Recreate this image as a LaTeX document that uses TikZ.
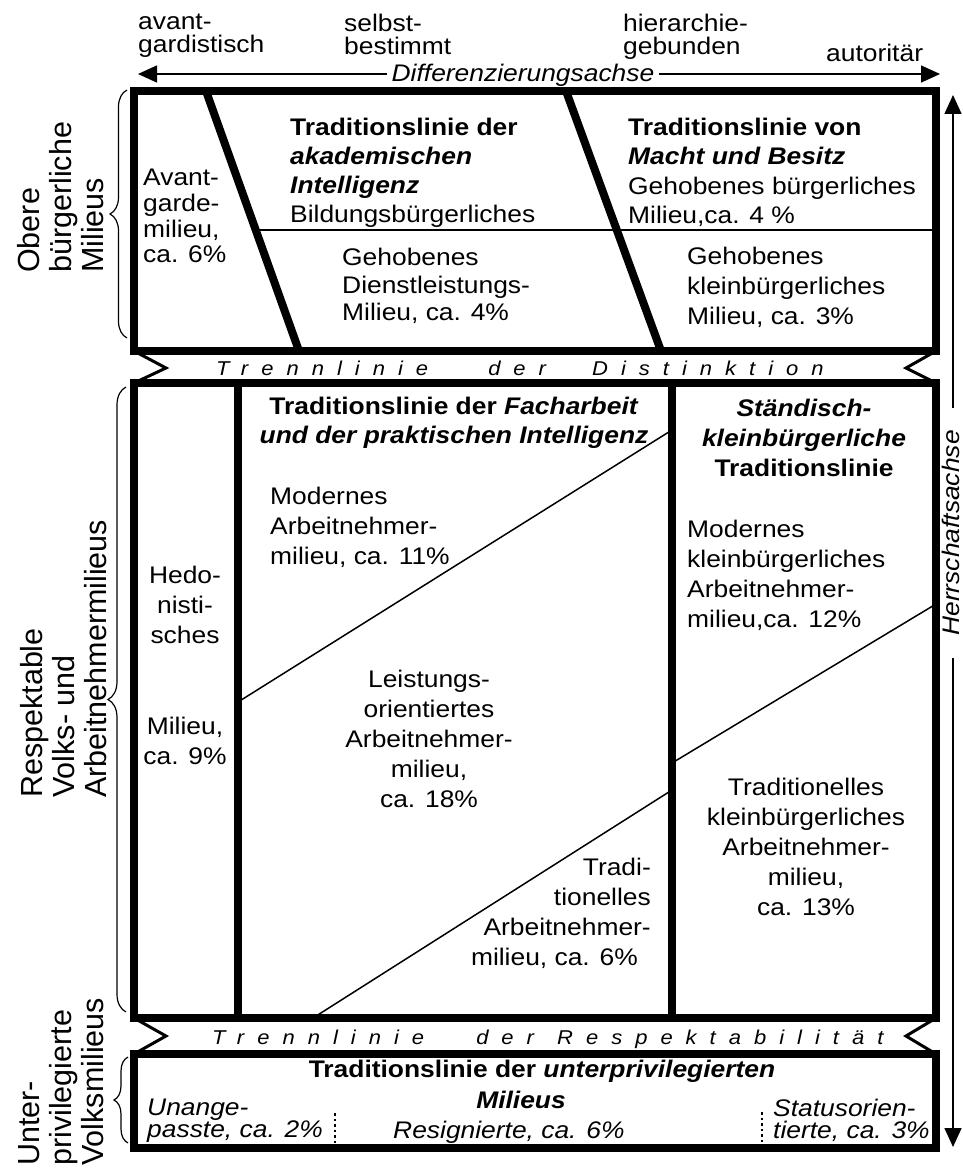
\documentclass[tikz,border=0pt]{standalone}
\usepackage{fontspec}
\setmainfont{Liberation Sans}[FakeStretch=1.1]
\newfontfamily\rotfont{Liberation Sans}
\newfontfamily\trennfont{Liberation Sans}[FakeStretch=1.1,LetterSpace=65,WordSpace=1]
\usetikzlibrary{arrows.meta,decorations.pathreplacing}
\begin{document}
\begin{tikzpicture}[x=1pt,y=-1pt,
  frame/.style={line width=8pt, line join=miter},
  heavy/.style={line width=8pt},
  thinline/.style={line width=1.5pt},
  zig/.style={line width=3pt, line join=miter},
  dotline/.style={line width=2.5pt, dash pattern=on 2.5pt off 3pt},
  bracestyle/.style={line width=1.2pt, decorate, decoration={brace, amplitude=#1}},
  axis/.style={line width=1.5pt, {Triangle[length=19pt,width=17pt]}-{Triangle[length=19pt,width=17pt]}},
  txt/.style={inner sep=0pt, font=\fontsize{24}{#1}\selectfont},
  txt/.default=30,
  toplab/.style={inner sep=0pt, font=\fontsize{24}{22.5}\selectfont, align=left},
  rotlab/.style={inner sep=0pt, rotate=90, anchor=north west, align=left, font=\rotfont\fontsize{30.5}{32}\selectfont},
  trenn/.style={inner sep=0pt, anchor=base west, font={\trennfont\itshape\fontsize{20}{24}\selectfont}},
  axislab/.style={font=\fontsize{24}{28}\selectfont\itshape, fill=white}
]
\useasboundingbox (0,0) rectangle (963,1169);

% ---- axes
\coordinate (hl) at (138,74);
\coordinate (hr) at (940,74);
\draw[axis] (hl) -- (hr);
\node[axislab, anchor=base, inner xsep=5pt, inner ysep=3pt] (dlab) at (523,82) {Differenzierungsachse};

\coordinate (vt) at (953,95);
\coordinate (vb) at (953,1147);
\draw[axis] (vt) -- (vb);
\node[axislab, rotate=90, inner xsep=22pt, inner ysep=2pt] (hlab) at (951,533) {Herrschaftsachse};

% ---- top labels
\node[toplab, anchor=north west] (avant) at (138,14) {avant-\\gardistisch};
\node[toplab, anchor=north west] (selbst) at (344,14) {selbst-\\bestimmt};
\node[toplab, anchor=north west] (hier) at (623,14) {hierarchie-\\gebunden};
\node[toplab, anchor=base west] (auto) at (826,62) {autoritär};

% ---- top box
\draw[heavy] (206,91) -- (299,351);
\draw[heavy] (566,91) -- (661,351);
\draw[thinline] (255.7,230) -- (936,230);
\draw[frame] (134,91) rectangle (936,351);

% ---- middle box
\draw[heavy] (238,383) -- (238,1018);
\draw[heavy] (672,383) -- (672,1018);
\draw[thinline] (238,702) -- (672,430);
\draw[thinline] (313,1018) -- (672,790);
\draw[thinline] (672,763) -- (936,604);
\draw[frame] (134,383) rectangle (936,1018);

% ---- lower box
\draw[frame] (134,1054) rectangle (936,1148);
\draw[dotline] (335,1113) -- (335,1143);
\draw[dotline] (762,1112) -- (762,1142);

% ---- zigzags
\draw[zig] (134,351) -- (166,368) -- (134,383);
\draw[zig] (936,351) -- (906,368) -- (936,383);
\draw[zig] (134,1018) -- (166,1036) -- (134,1054);
\draw[zig] (936,1018) -- (906,1036) -- (936,1054);

% ---- dividing lines text
\node[trenn] (tr1) at (216,375) {Trennlinie\hspace{41pt} der\hspace{27pt} Distinktion};
\node[trenn] (tr2) at (212,1044) {Trennlinie\hspace{33pt} der\hspace{4pt} Respektabilität};

% ---- braces
\draw[bracestyle=17pt] (127,338) -- (127,90);
\draw[bracestyle=18pt] (126,1012) -- (126,387);
\draw[bracestyle=14pt] (128,1143) -- (128,1057);

% ---- rotated group labels
\node[rotlab] (obere) at (17,273) {Obere\\bürgerliche\\Milieus};
\node[rotlab] (respekt) at (20,798) {Respektable\\Volks- und\\Arbeitnehmermilieus};
\node[rotlab] (unter) at (18,1166) {Unter-\\privilegierte\\Volksmilieus};

% ---- top box texts
\node[txt=25.7, anchor=north west, align=left] (avantg) at (143,169) {Avant-\\garde-\\milieu,\\ca. 6\%};
\node[txt=29, anchor=north west, align=left] (akad) at (290,118) {\textbf{Traditionslinie der}\\\textbf{\textit{akademischen}}\\\textbf{\textit{Intelligenz}}\\Bildungsbürgerliches};
\node[txt=27.5, anchor=north west, align=left] (dienst) at (342,248) {Gehobenes\\Dienstleistungs-\\Milieu, ca. 4\%};
\node[txt=29.3, anchor=north west, align=left] (macht) at (628,118) {\textbf{Traditionslinie von}\\\textbf{\textit{Macht und Besitz}}\\Gehobenes bürgerliches\\Milieu,ca. 4 \%};
\node[txt=30, anchor=north west, align=left] (gklein) at (687,247) {Gehobenes\\kleinbürgerliches\\Milieu, ca. 3\%};

% ---- middle box texts
\node[txt=29, anchor=north, align=center] (fach) at (454,397) {\textbf{Traditionslinie der \textit{Facharbeit}}\\\textbf{\textit{und der praktischen Intelligenz}}};
\node[txt, anchor=north west, align=left] (modarb) at (270,487) {Modernes\\Arbeitnehmer-\\milieu, ca. 11\%};
\node[txt, anchor=north, align=center] (hedo) at (185,566) {Hedo-\\nisti-\\sches};
\node[txt, anchor=north, align=center] (hedo2) at (185,717) {Milieu,\\ca. 9\%};
\node[txt, anchor=north, align=center] (leist) at (429,670) {Leistungs-\\orientiertes\\Arbeitnehmer-\\milieu,\\ca. 18\%};
\node[txt, anchor=north east, align=right] (tradarb) at (651,858) {Tradi-\\tionelles\\Arbeitnehmer-\\milieu, ca. 6\%\rule{13pt}{0pt}};
\node[txt, anchor=north, align=center] (staend) at (804,399) {\textbf{\textit{Ständisch-}}\\\textbf{\textit{kleinbürgerliche}}\\\textbf{Traditionslinie}};
\node[txt, anchor=north west, align=left] (modklein) at (687,520) {Modernes\\kleinbürgerliches\\Arbeitnehmer-\\milieu,ca. 12\%};
\node[txt, anchor=north, align=center] (tradklein) at (806,778) {Traditionelles\\kleinbürgerliches\\Arbeitnehmer-\\milieu,\\ca. 13\%};

% ---- lower box texts
\node[txt=31, anchor=north, align=center] (unterpriv) at (542,1060) {\textbf{Traditionslinie der \textit{unterprivilegierten}}\\\textbf{\textit{Milieus}}\rule{42pt}{0pt}};
\node[inner sep=0pt, anchor=north west, align=left, font=\fontsize{24}{22}\selectfont\itshape] (unang) at (147,1099) {Unange-\\passte, ca. 2\%};
\node[inner sep=0pt, anchor=base west, font=\fontsize{24}{22}\selectfont\itshape] (resig) at (393,1138) {Resignierte, ca. 6\%};
\node[inner sep=0pt, anchor=north west, align=left, font=\fontsize{24}{22}\selectfont\itshape] (status) at (773,1099) {Statusorien-\\tierte, ca. 3\%};
\end{tikzpicture}
\end{document}
